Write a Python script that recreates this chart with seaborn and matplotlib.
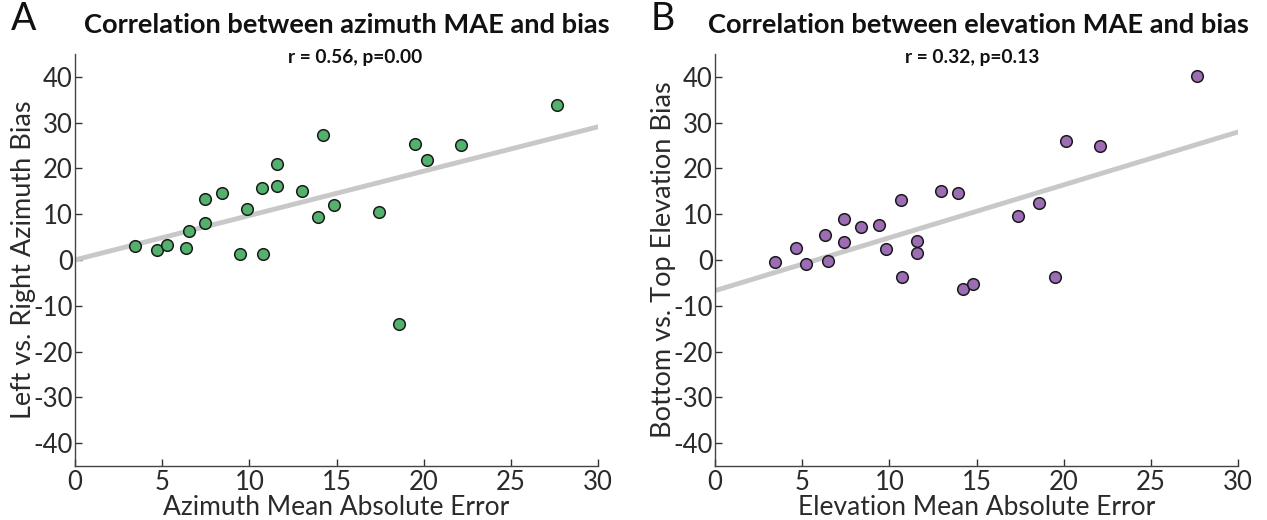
import matplotlib
matplotlib.use("Agg")
import matplotlib.pyplot as plt
import seaborn as sns
import numpy as np
import pandas as pd

# ---- data ----
az_mae = [3.47, 4.70, 5.27, 6.34, 6.56, 7.43, 7.43, 8.44, 9.84, 9.45, 10.73, 10.79,
          11.58, 11.58, 13.0, 14.25, 13.96, 14.86, 17.42, 18.6, 19.52, 20.19, 22.15, 27.67]
az_bias = [2.98, 2.25, 3.34, 2.54, 6.4, 8.0, 13.4, 14.7, 11.1, 1.24, 15.7, 1.31,
           21.0, 16.1, 15.0, 27.3, 9.5, 12.0, 10.5, -13.95, 25.4, 21.9, 25.1, 33.9]
el_mae = [3.45, 4.64, 5.23, 6.30, 6.50, 7.39, 7.39, 8.40, 9.41, 9.80, 10.69, 10.75,
          11.57, 11.57, 12.97, 13.92, 14.22, 14.81, 17.36, 18.57, 19.48, 20.15, 22.11, 27.63]
el_bias = [-0.44, 2.70, -0.87, 5.39, -0.29, 9.04, 3.86, 7.22, 7.73, 2.48, 13.05, -3.72,
           4.23, 1.53, 15.01, 14.65, -6.34, -5.32, 9.62, 12.46, -3.64, 26.0, 24.85, 40.09]

panels = [
    dict(letter="A", x=az_mae, y=az_bias, color="#52b26d",
         title="Correlation between azimuth MAE and bias", stats="r = 0.56, p=0.00",
         xlabel="Azimuth Mean Absolute Error", ylabel="Left vs. Right Azimuth Bias"),
    dict(letter="B", x=el_mae, y=el_bias, color="#9c6db4",
         title="Correlation between elevation MAE and bias", stats="r = 0.32, p=0.13",
         xlabel="Elevation Mean Absolute Error", ylabel="Bottom vs. Top Elevation Bias"),
]
xticks = [0, 5, 10, 15, 20, 25, 30]
yticks = [-40, -30, -20, -10, 0, 10, 20, 30, 40]

sns.set_style("ticks")
plt.rcParams['font.family'] = ['Lato', 'DejaVu Sans']
plt.rcParams['axes.unicode_minus'] = False

fig = plt.figure(figsize=(12.67, 5.2), dpi=100)
lefts = [75 / 1267, 715 / 1267]
title_cx = [347 / 1267, 978 / 1267]
stats_cx = [355 / 1267, 972 / 1267]
for p, left, tcx, scx in zip(panels, lefts, title_cx, stats_cx):
    ax = fig.add_axes([left, 54 / 520, 523 / 1267, 412 / 520])
    ax.set_xlim(0, 30)
    ax.set_ylim(-45, 45)
    df = pd.DataFrame({"x": p["x"], "y": p["y"]})
    sns.regplot(data=df, x="x", y="y", ax=ax, ci=None, truncate=False,
                scatter_kws=dict(s=70, color=p["color"], edgecolor="#1a1a1a",
                                 linewidths=1.1, alpha=1, zorder=3),
                line_kws=dict(color="#c8c8c8", lw=3.5, zorder=2))
    ax.set_xlim(0, 30)
    ax.set_ylim(-45, 45)
    ax.set_xticks(xticks)
    ax.set_yticks(yticks)
    ax.tick_params(direction="in", length=5, width=1, labelsize=18.5,
                   colors="#333333", labelcolor="#2a2a2a")
    ax.tick_params(axis="y", pad=1.5)
    ax.tick_params(axis="x", pad=3)
    for s in ["top", "right"]:
        ax.spines[s].set_visible(False)
    for s in ["left", "bottom"]:
        ax.spines[s].set_color("#444444")
        ax.spines[s].set_linewidth(1)
    ax.set_xlabel(p["xlabel"], fontsize=19, color="#2a2a2a", labelpad=0)
    ax.set_ylabel(p["ylabel"], fontsize=19.5, color="#2a2a2a", labelpad=-1.5)
    fig.text(tcx, 1 - 25 / 520, p["title"], ha="center", va="center",
             fontsize=19.6, fontweight="bold", color="#111111")
    fig.text(scx, 1 - 57 / 520, p["stats"], ha="center", va="center",
             fontsize=13.8, fontweight="bold", color="#111111")
    fig.text(left - 64 / 1267, 1 - 19 / 520, p["letter"], ha="left", va="center",
             fontsize=27, fontweight="normal", color="#111111")

fig.savefig("out.png", dpi=100)
